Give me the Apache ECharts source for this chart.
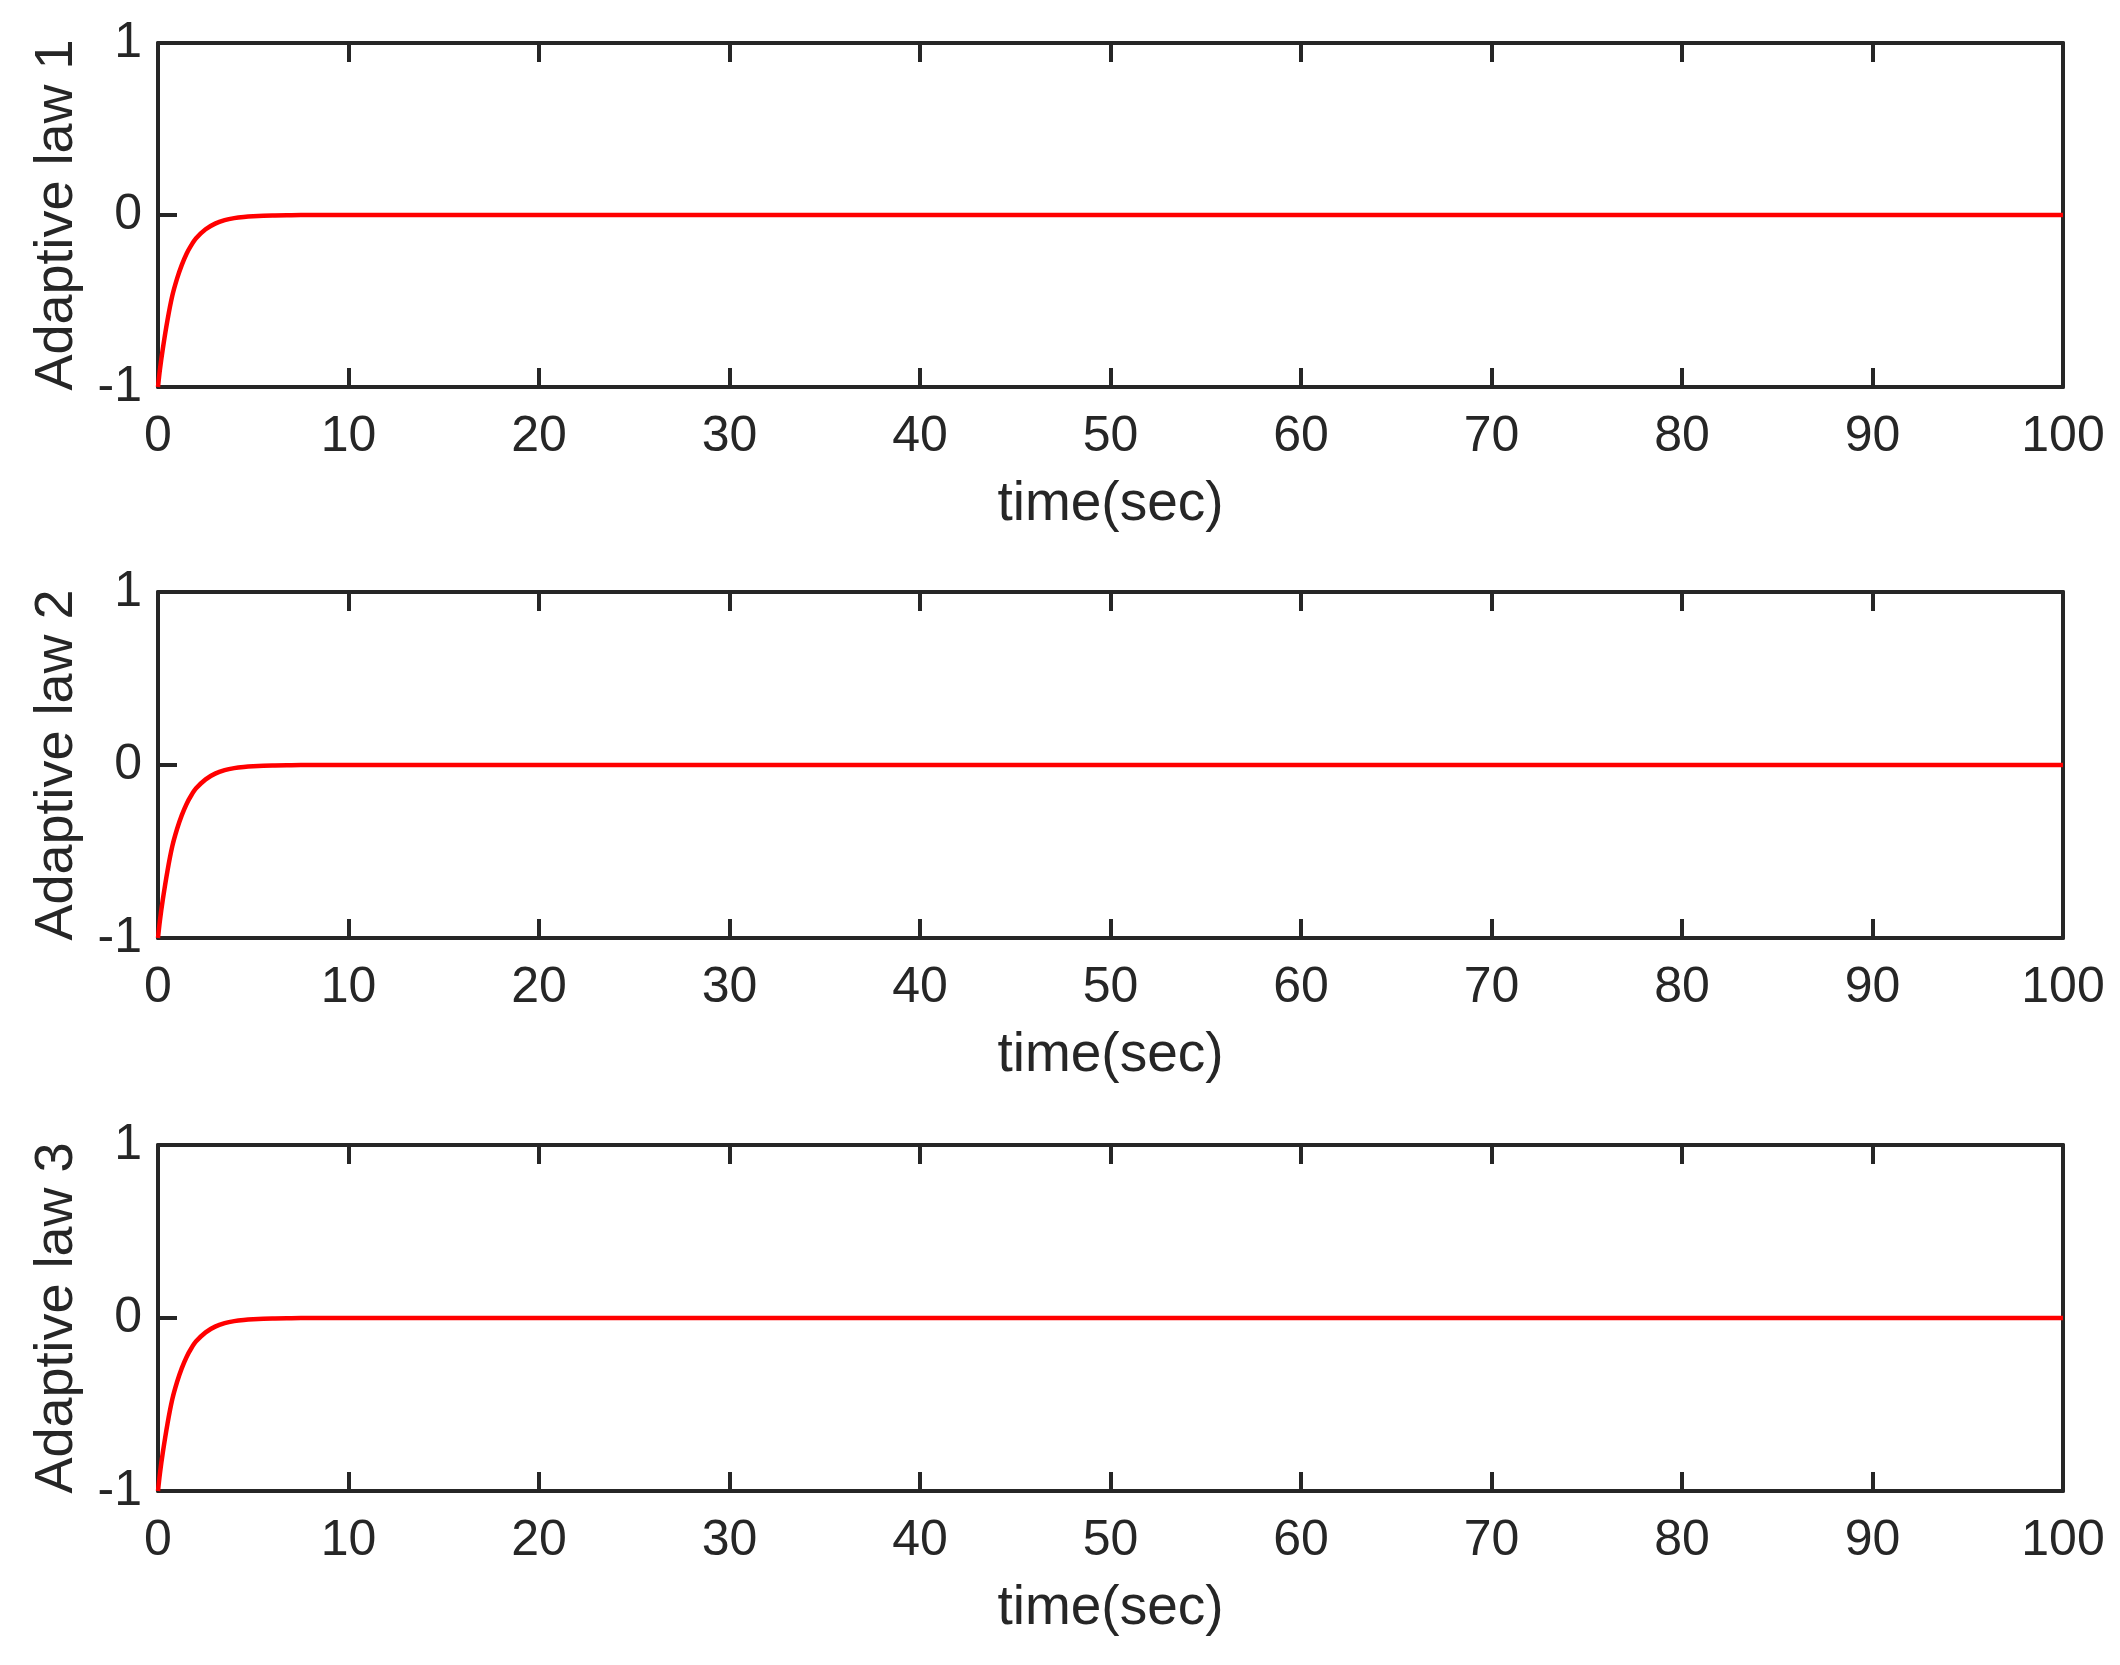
<!DOCTYPE html>
<html>
<head>
<meta charset="utf-8">
<script src="https://cdn.jsdelivr.net/npm/echarts@6/dist/echarts.min.js"></script>
<style>
html,body{margin:0;padding:0;background:#fff;}
#chart{width:2120px;height:1665px;}
</style>
</head>
<body>
<div id="chart"></div>
<script>
// ---- data ----
const timeSec = [0, 0.1, 0.25, 0.5, 0.75, 1, 1.25, 1.5, 1.75, 2, 2.5, 3, 3.5, 4, 4.5, 5, 6, 7, 8, 10, 20, 30, 40, 50, 60, 70, 80, 90, 100];
const law1 = [-1, -0.9, -0.78, -0.61, -0.47, -0.37, -0.29, -0.225, -0.175, -0.135, -0.083, -0.05, -0.03, -0.018, -0.011, -0.007, -0.0025, -0.001, 0, 0, 0, 0, 0, 0, 0, 0, 0, 0, 0];
const law2 = [-1, -0.9, -0.78, -0.61, -0.47, -0.37, -0.29, -0.225, -0.175, -0.135, -0.083, -0.05, -0.03, -0.018, -0.011, -0.007, -0.0025, -0.001, 0, 0, 0, 0, 0, 0, 0, 0, 0, 0, 0];
const law3 = [-1, -0.9, -0.78, -0.61, -0.47, -0.37, -0.29, -0.225, -0.175, -0.135, -0.083, -0.05, -0.03, -0.018, -0.011, -0.007, -0.0025, -0.001, 0, 0, 0, 0, 0, 0, 0, 0, 0, 0, 0];
const yLabels = ['Adaptive law 1', 'Adaptive law 2', 'Adaptive law 3'];
const xLabel = 'time(sec)';
const xTicks = {min: 0, max: 100, interval: 10};
const yTicks = {min: -1, max: 1, interval: 1};

const laws = [law1, law2, law3];
const tops = [43, 592, 1145];
const heights = [344, 346, 346];
const INK = '#262626';
const FONT = 'Liberation Sans';

const grids = [], xAxes = [], yAxes = [], series = [];
const lineStyleAxis = {color: INK, width: 4};
const tickStyle = {show: true, inside: true, length: 19, lineStyle: {color: INK, width: 4}};

for (let i = 0; i < 3; i++) {
  grids.push({left: 158, right: 57, top: tops[i], height: heights[i]});
  xAxes.push({
    type: 'value', gridIndex: i, position: 'bottom',
    min: xTicks.min, max: xTicks.max, interval: xTicks.interval,
    axisLine: {show: true, onZero: false, lineStyle: lineStyleAxis},
    axisTick: tickStyle,
    axisLabel: {show: true, fontSize: 50, color: INK, fontFamily: FONT, margin: 25},
    splitLine: {show: false},
    name: xLabel, nameLocation: 'middle', nameGap: 90,
    nameTextStyle: {fontSize: 55, color: INK, fontFamily: FONT}
  });
  xAxes.push({
    type: 'value', gridIndex: i, position: 'top',
    min: xTicks.min, max: xTicks.max, interval: xTicks.interval,
    axisLine: {show: true, onZero: false, lineStyle: lineStyleAxis},
    axisTick: tickStyle,
    axisLabel: {show: false},
    splitLine: {show: false}
  });
  yAxes.push({
    type: 'value', gridIndex: i, position: 'left',
    min: yTicks.min, max: yTicks.max, interval: yTicks.interval,
    axisLine: {show: true, onZero: false, lineStyle: lineStyleAxis},
    axisTick: tickStyle,
    axisLabel: {show: true, fontSize: 50, color: INK, fontFamily: FONT, margin: 16},
    splitLine: {show: false},
    name: yLabels[i], nameLocation: 'middle', nameGap: 74, nameRotate: 90,
    nameTextStyle: {fontSize: 54, color: INK, fontFamily: FONT}
  });
  yAxes.push({
    type: 'value', gridIndex: i, position: 'right',
    min: yTicks.min, max: yTicks.max, interval: yTicks.interval,
    axisLine: {show: true, onZero: false, lineStyle: lineStyleAxis},
    axisTick: tickStyle,
    axisLabel: {show: false},
    splitLine: {show: false}
  });
  series.push({
    type: 'line', xAxisIndex: 2 * i, yAxisIndex: 2 * i,
    data: timeSec.map((t, k) => [t, laws[i][k]]),
    showSymbol: false, smooth: 0.3,
    lineStyle: {color: '#ff0000', width: 4.5},
    z: 1
  });
}

const chart = echarts.init(document.getElementById('chart'), null, {renderer: 'canvas'});
chart.setOption({
  animation: false,
  backgroundColor: '#ffffff',
  grid: grids, xAxis: xAxes, yAxis: yAxes, series: series
});
</script>
</body>
</html>
